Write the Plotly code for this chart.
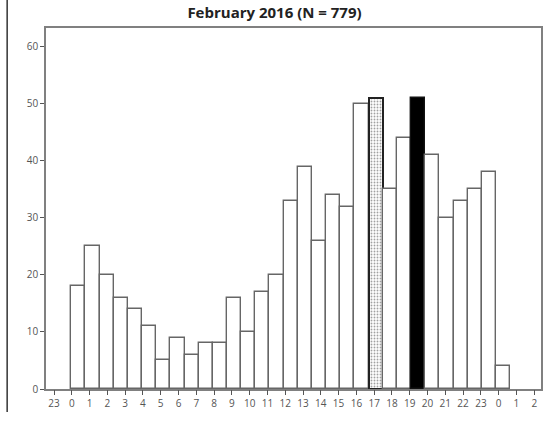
import plotly.graph_objects as go

title_text = "February 2016 (N = 779)"
counts = [18, 25, 20, 16, 14, 11, 5, 9, 6, 8, 8, 16, 10, 17, 20, 33, 39, 26,
          34, 32, 50, 51, 35, 44, 51, 41, 30, 33, 35, 38, 4]
# style per bar: "plain", "stipple", "solid"
styles = ["plain"] * 21 + ["stipple"] + ["plain"] * 2 + ["solid"] + ["plain"] * 6
tick_labels = ["23"] + [str(h) for h in range(24)] + ["0", "1", "2"]
y_ticks = [0, 10, 20, 30, 40, 50, 60]

bar_x = list(range(len(counts)))
fill = {"plain": "white", "stipple": "white", "solid": "black"}
line_col = {"plain": "#666666", "stipple": "#222222", "solid": "#111111"}
line_w = {"plain": 1.4, "stipple": 2, "solid": 1.4}
pat = {"plain": "", "stipple": ".", "solid": ""}

fig = go.Figure()
fig.add_trace(go.Bar(
    x=bar_x, y=counts, width=1,
    marker=dict(
        color=[fill[s] for s in styles],
        line=dict(color=[line_col[s] for s in styles], width=[line_w[s] for s in styles]),
        pattern=dict(shape=[pat[s] for s in styles], fgcolor="#9a9a9a", bgcolor="white",
                     size=3, solidity=0.3, fillmode="overlay"),
    ),
    hoverinfo="skip", showlegend=False, xaxis="x", yaxis="y",
))
tick_pos = list(range(len(tick_labels)))
fig.add_trace(go.Scatter(x=tick_pos, y=[None] * len(tick_pos), mode="markers",
                         xaxis="x2", yaxis="y", showlegend=False, hoverinfo="skip"))

axis_gray = "#808080"
fig.update_layout(
    width=555, height=424,
    margin=dict(l=46, r=12, t=28, b=35),
    paper_bgcolor="white", plot_bgcolor="white",
    font=dict(family="Open Sans", color="#555555", size=10),
    title=dict(text="<b>" + title_text + "</b>", x=274.5 / 555, xanchor="center",
               y=1 - 13 / 424, yanchor="middle",
               font=dict(family="Open Sans", size=15, color="#222222")),
    bargap=0,
    xaxis=dict(range=[-2.28, 32.67], showticklabels=False, ticks="", showgrid=False,
               zeroline=False, showline=True, mirror=True, linecolor=axis_gray, linewidth=1.5),
    xaxis2=dict(overlaying="x", side="bottom", anchor="y", range=[-0.45, 27.38],
                tickvals=tick_pos, ticktext=tick_labels, ticks="outside", ticklen=5,
                tickwidth=1.2, tickcolor="#555555", showgrid=False, zeroline=False,
                showline=False, tickfont=dict(size=10, color="#555555")),
    yaxis=dict(range=[0, 63.3], tickvals=y_ticks, ticks="outside", ticklen=4,
               tickwidth=1.2, tickcolor="#555555", showgrid=False, zeroline=False,
               showline=True, mirror=True, linecolor=axis_gray, linewidth=1.5,
               tickfont=dict(size=10, color="#555555")),
    shapes=[dict(type="line", xref="paper", yref="paper",
                 x0=(7 - 46) / 497, x1=(7 - 46) / 497,
                 y0=(389 - 412) / 361, y1=(389 - 0) / 361,
                 line=dict(color="#333333", width=1.5))],
)

fig.write_html("out.html")
